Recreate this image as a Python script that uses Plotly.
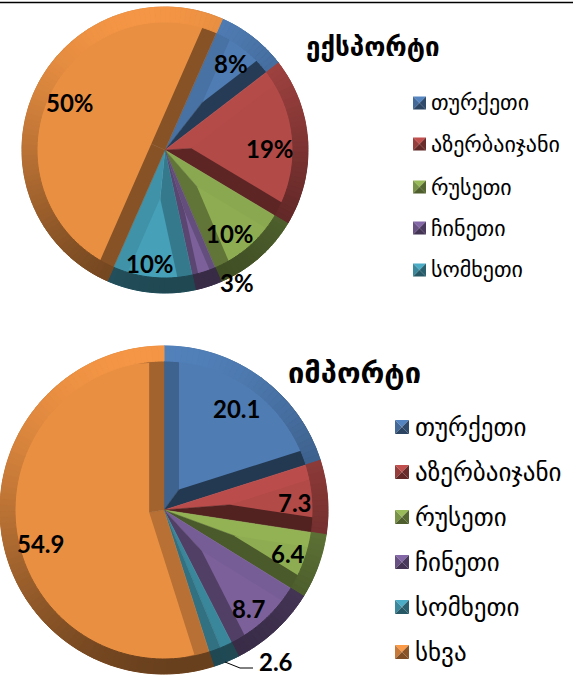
import math
import plotly.graph_objects as go

W, H = 573, 677

countries = ["თურქეთი", "აზერბაიჯანი", "რუსეთი", "ჩინეთი", "სომხეთი", "სხვა"]
export_values = [8, 19, 10, 3, 10, 50]
export_labels = ["8%", "19%", "10%", "3%", "10%", "50%"]
import_values = [20.1, 7.3, 6.4, 8.7, 2.6, 54.9]
import_labels = ["20.1", "7.3", "6.4", "8.7", "2.6", "54.9"]
export_title = "ექსპორტი"
import_title = "იმპორტი"

face_colors = ["#4F7CB3", "#B24A48", "#8EAD52", "#7B609A", "#46A0B8", "#E98F42"]


def shade(hex_color, f):
    r, g, b = [int(hex_color[i:i + 2], 16) for i in (1, 3, 5)]
    return "rgb(%d,%d,%d)" % tuple(min(255, int(c * f)) for c in (r, g, b))


def light(theta):
    return 0.75 + 0.30 * math.cos(math.radians(theta + 10))


def domain(cx, cy, r):
    return dict(x=[(cx - r) / W, (cx + r) / W], y=[1 - (cy + r) / H, 1 - (cy - r) / H])


def pie_layers(values, rotation, cx, cy, R, bevel):
    traces = []
    total = sum(values)
    base = dict(sort=False, direction="clockwise", rotation=rotation, textinfo="none",
                hoverinfo="skip", showlegend=False)
    Rr = R - bevel

    # side bevels: each slice halved, each half lit by the normal of its edge
    side_v, side_c = [], []
    start = rotation
    for v, c in zip(values, face_colors):
        sweep = v / total * 360
        side_v += [v / 2, v / 2]
        side_c += [shade(c, light(start - 90)), shade(c, light(start + sweep + 90))]
        start += sweep
    traces.append(go.Pie(values=side_v, domain=domain(cx, cy, R),
                         marker=dict(colors=side_c, line=dict(color=side_c, width=0.5)), **base))

    # inset faces: the same wedge, moved along its bisector
    start = rotation
    for i, v in enumerate(values):
        half = v / total * 180
        mid = math.radians(start + half)
        start += 2 * half
        if half < 5:
            continue
        d = min(bevel / math.sin(math.radians(half)), 0.5 * Rr) if half < 90 else bevel
        s = d * math.sin(math.radians(half))
        t = -d * math.cos(math.radians(half)) + math.sqrt(Rr ** 2 - s ** 2)
        r = max(t, Rr - d) + 1
        fx, fy = cx + d * math.sin(mid), cy - d * math.cos(mid)
        r = min(r, fx, W - fx, fy, H - fy)
        colors = ["rgba(0,0,0,0)"] * len(values)
        colors[i] = face_colors[i]
        traces.append(go.Pie(values=values, domain=domain(fx, fy, r),
                             marker=dict(colors=colors, line=dict(width=0)), **base))

    # outer rim ring on top, shaded around the circle
    rim_v, rim_c = [], []
    start = rotation
    for v, c in zip(values, face_colors):
        k = max(1, math.ceil(v / 0.6))
        for i in range(k):
            m = start + (i + 0.5) * (v / k) / total * 360
            rim_v.append(v / k)
            rim_c.append(shade(c, light(m)))
        start += v / total * 360
    traces.append(go.Pie(values=rim_v, domain=domain(cx, cy, R), hole=Rr / R,
                         marker=dict(colors=rim_c, line=dict(color=rim_c, width=1)), **base))
    return traces


fig = go.Figure()
for t in pie_layers(export_values, 23.7, 165, 150, 143, 15):
    fig.add_trace(t)
for t in pie_layers(import_values, 0, 164, 510, 164, 15):
    fig.add_trace(t)

annotations, shapes = [], []


def text(x, y, s, size, family, bold=False):
    annotations.append(dict(x=x / W, y=1 - y / H, xref="paper", yref="paper", text=f"<b>{s}</b>" if bold else s,
                            showarrow=False, xanchor="center", yanchor="middle",
                            font=dict(size=size, family=family, color="black")))


def tri(p1, p2, p3, color):
    path = "M " + " L ".join(f"{x / W:.5f},{1 - y / H:.5f}" for x, y in (p1, p2, p3)) + " Z"
    shapes.append(dict(type="path", xref="paper", yref="paper", path=path, fillcolor=color, line=dict(width=0)))


def legend(x, ys, size, text_x, font_size, n):
    for i, y in zip(range(n), ys):
        c = face_colors[i]
        x0, y0, x1, y1 = x, y - size / 2, x + size, y + size / 2
        m = (x + size / 2, y)
        tri((x0, y0), (x1, y0), m, shade(c, 1.08))
        tri((x0, y0), (x0, y1), m, shade(c, 0.85))
        tri((x1, y0), (x1, y1), m, shade(c, 0.6))
        tri((x0, y1), (x1, y1), m, shade(c, 0.55))
        annotations.append(dict(x=text_x / W, y=1 - y / H, xref="paper", yref="paper", text=countries[i],
                                showarrow=False, xanchor="left", yanchor="middle",
                                font=dict(size=font_size, family="DejaVu Sans", color="black")))


export_pos = [(231, 64), (270, 149), (230, 233), (237, 282), (150, 263), (70, 103)]
import_pos = [(236, 408), (295, 502), (288, 553), (249, 608), (276, 661), (40, 543)]
for (x, y), s in zip(export_pos, export_labels):
    text(x, y, s, 24, "Lato", True)
for (x, y), s in zip(import_pos, import_labels):
    text(x, y, s, 24, "Lato", True)

text(373, 47, export_title, 26, "DejaVu Sans", True)
text(354, 373, import_title, 29, "DejaVu Sans", True)

legend(413, [103, 144, 187, 228, 270], 13, 429, 22, 5)
legend(395, [427, 472, 517, 562, 607, 652], 14, 413, 25, 6)

shapes.append(dict(type="line", xref="paper", yref="paper", x0=0, x1=1, y0=1 - 2.5 / H, y1=1 - 2.5 / H,
                   line=dict(color="black", width=1.5)))
shapes.append(dict(type="path", xref="paper", yref="paper", line=dict(color="black", width=1),
                   path="M " + " L ".join(f"{x / W:.5f},{1 - y / H:.5f}" for x, y in [(225, 662), (240, 668), (253, 668)])))

fig.update_layout(width=W, height=H, margin=dict(l=0, r=0, t=0, b=0), paper_bgcolor="white",
                  showlegend=False, annotations=annotations, shapes=shapes)
fig.write_html("out.html", post_script="document.body.style.margin='0';", config={"displayModeBar": False})
